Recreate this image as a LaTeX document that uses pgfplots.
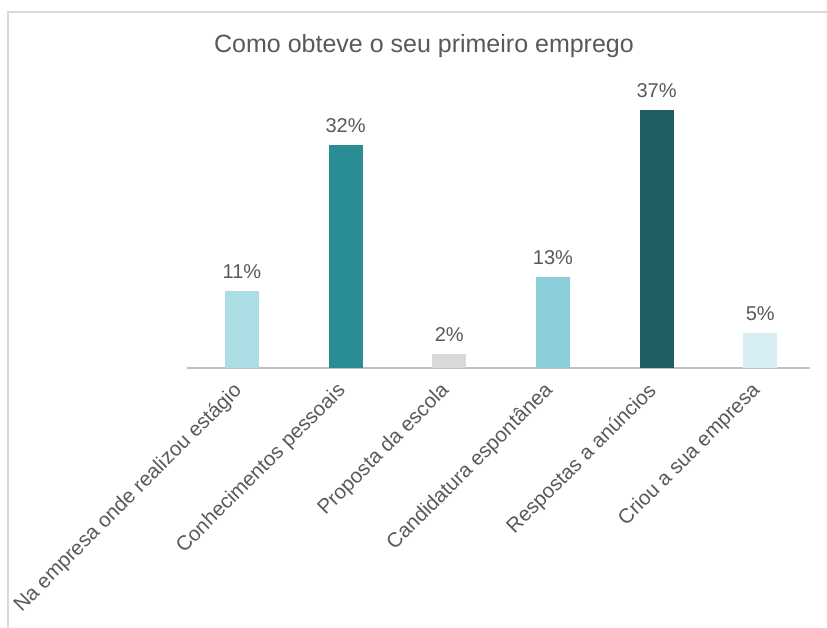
\documentclass[border=0pt]{standalone}
\usepackage{pgfplots}
\pgfplotsset{compat=1.18}
\usepackage{fontspec}
\setmainfont{Liberation Sans}

\definecolor{txtgray}{RGB}{89,89,89}
\definecolor{framegray}{RGB}{217,217,217}
\definecolor{axisgray}{RGB}{191,191,191}
\definecolor{cA}{RGB}{170,221,228}
\definecolor{cB}{RGB}{42,140,148}
\definecolor{cC}{RGB}{217,217,217}
\definecolor{cD}{RGB}{138,207,217}
\definecolor{cE}{RGB}{31,94,99}
\definecolor{cF}{RGB}{214,238,242}

\begin{document}
\begin{tikzpicture}[x=1pt,y=1pt]
\path[use as bounding box] (0,0) rectangle (827,628);
\draw[framegray, line width=1.5pt] (8,0) -- (8,616) -- (827,616);
\node[text=txtgray, font=\fontsize{25}{29}\selectfont] at (424,582) {Como obteve o seu primeiro emprego};

\begin{axis}[
	at={(187pt,260pt)}, anchor=south west,
	scale only axis,
	width=623pt, height=278.8pt,
	xmin=-0.53, xmax=5.48,
	ymin=0, ymax=40,
	axis y line=none,
	axis x line=bottom,
	x axis line style={-, draw=axisgray, line width=1.2pt},
	major tick length=0pt,
	/pgf/number format/assume math mode=true,
	xtick={0,1,2,3,4,5},
	xticklabels={Na empresa onde realizou estágio, Conhecimentos pessoais, Proposta da escola, Candidatura espontânea, Respostas a anúncios, Criou a sua empresa},
	x tick label style={xshift=-10pt, yshift=-10pt, rotate=45, anchor=north east, text=txtgray, font=\fontsize{20.5}{24}\selectfont, inner sep=2pt},
	nodes near coords={\pgfmathprintnumber{\pgfplotspointmeta}\%},
	nodes near coords style={text=txtgray, font=\fontsize{20}{24}\selectfont, yshift=9pt},
	clip=false
	]
\addplot[ybar, bar width=34pt, bar shift=0pt, fill=cA, draw=none] coordinates {(0,11)};
\addplot[ybar, bar width=34pt, bar shift=0pt, fill=cB, draw=none] coordinates {(1,32)};
\addplot[ybar, bar width=34pt, bar shift=0pt, fill=cC, draw=none] coordinates {(2,2)};
\addplot[ybar, bar width=34pt, bar shift=0pt, fill=cD, draw=none] coordinates {(3,13)};
\addplot[ybar, bar width=34pt, bar shift=0pt, fill=cE, draw=none] coordinates {(4,37)};
\addplot[ybar, bar width=34pt, bar shift=0pt, fill=cF, draw=none] coordinates {(5,5)};
\end{axis}
\end{tikzpicture}
\end{document}
